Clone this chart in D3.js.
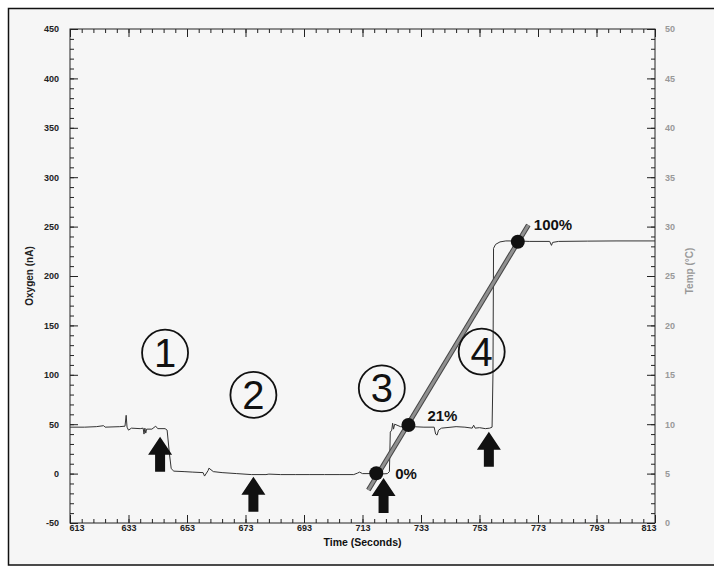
<!DOCTYPE html>
<html>
<head>
<meta charset="utf-8">
<title>oxygen calibration</title>
<style>
  body { margin: 0; background: #fff; }
  text { font-family: "Liberation Sans", Arial, sans-serif; }
</style>
</head>
<body>
<div id="chart"></div>
<script src="https://cdn.jsdelivr.net/npm/d3@7"></script>
<script>

// trace: time (s) and oxygen (nA)
var times = [613, 618, 622, 624.5, 625, 630, 631.8, 632.2, 632.5, 633, 634, 637, 638, 638.3, 638.6, 638.9, 639.2, 641, 642.3, 643, 645.5, 646.2, 647, 647.6, 648.5, 652, 655, 658.5, 659, 660.2, 660.5, 662, 665, 670, 675, 680, 681, 685, 690, 695, 700, 705, 710, 711.3, 712, 713, 716, 717, 719, 721.5, 722.2, 722.5, 723, 723.3, 723.6, 724, 726, 730, 734, 737.5, 738, 738.5, 739, 740, 745, 748, 750.5, 751, 751.5, 753, 755, 756.5, 757.3, 757.6, 757.8, 758.5, 760, 762, 766, 770, 777, 777.6, 778, 780, 790, 800, 813];
var oxygen = [47, 47, 47.5, 48.5, 47, 47.5, 48, 59, 47, 44, 46, 45.5, 46, 40, 46, 41, 45, 45, 48, 45.5, 45.5, 44, 20, 5, 2.5, 2, 1.5, 1, -2.5, 3, 5.5, 2, 1, 0, -1, -1, -0.5, -1, -1, -1, -1, -1, -1, 0.5, 1.5, 0, 0, -1, -0.5, 0, 2, 42, 44, 51, 45, 50, 47.5, 47.5, 47, 47, 40, 39, 44, 46, 47.5, 47, 46, 49, 46, 46.5, 45.5, 46, 47, 100, 228, 232, 234.5, 235.5, 235.5, 235, 235, 231, 234, 235, 235.3, 235.5, 235.5];

// calibration points and fitted line
var calTimes = [717.7, 728.7, 766.1];
var calValues = [0.3, 49.2, 234.7];
var calLabels = ['0%', '21%', '100%'];
var fitTimes = [715.0, 769.7];
var fitValues = [-16.6, 251.6];

// circled step numbers
var stepLabels = ['1', '2', '3', '4'];
var stepTimes = [645.5, 675.7, 719.6, 753.75];
var stepValues = [122.4, 79.6, 86.3, 123.4];

// arrow tips
var arrowTimes = [643.8, 675.7, 720.2, 756.2];
var arrowValues = [37.3, -3.1, -4.5, 42.4];

// axes
var xTicks = d3.range(613, 814, 20);
var xMinor = d3.range(613, 814, 4);
var yTicks = d3.range(-50, 451, 50);
var yMinor = d3.range(-50, 451, 10);
var tTicks = d3.range(0, 51, 5);
var tMinor = d3.range(0, 51, 1);

var W = 714, H = 566;
var pLeft = 70, pRight = 655, pTop = 29, pBottom = 523;

var svg = d3.select('#chart').append('svg')
  .attr('width', W).attr('height', H);

svg.append('rect')
  .attr('x', 8.5).attr('y', 8.5)
  .attr('width', W).attr('height', H - 9.5)
  .attr('fill', '#f6f6f6')
  .attr('stroke', '#111').attr('stroke-width', 1.5);

var x = d3.scaleLinear().domain([613, 813]).range([pLeft, pRight]);
var y = d3.scaleLinear().domain([-50, 450]).range([pBottom, pTop]);
var yT = d3.scaleLinear().domain([0, 50]).range([pBottom, pTop]);

var plain = d => String(d);

function styleAxis(g, color) {
  g.select('.domain').remove();
  g.selectAll('line').attr('stroke', '#222');
  g.selectAll('text')
    .style('font-size', '9px')
    .style('font-weight', 'bold')
    .attr('fill', color);
}

// minor ticks
svg.append('g').attr('transform', 'translate(' + pLeft + ',0)')
  .call(d3.axisLeft(y).tickValues(yMinor).tickSize(-4).tickSizeOuter(0).tickFormat(''))
  .call(styleAxis, '#222');
svg.append('g').attr('transform', 'translate(' + pRight + ',0)')
  .call(d3.axisRight(yT).tickValues(tMinor).tickSize(-4).tickSizeOuter(0).tickFormat(''))
  .call(styleAxis, '#999');
svg.append('g').attr('transform', 'translate(0,' + pBottom + ')')
  .call(d3.axisBottom(x).tickValues(xMinor).tickSize(-4).tickSizeOuter(0).tickFormat(''))
  .call(styleAxis, '#222');
svg.append('g').attr('transform', 'translate(0,' + pTop + ')')
  .call(d3.axisTop(x).tickValues(xMinor).tickSize(-4).tickSizeOuter(0).tickFormat(''))
  .call(styleAxis, '#222');

// major ticks + labels
svg.append('g').attr('transform', 'translate(' + pLeft + ',0)')
  .call(d3.axisLeft(y).tickValues(yTicks).tickSize(-8).tickSizeOuter(0).tickPadding(11).tickFormat(plain))
  .call(styleAxis, '#222');
svg.append('g').attr('transform', 'translate(' + pRight + ',0)')
  .call(d3.axisRight(yT).tickValues(tTicks).tickSize(-8).tickSizeOuter(0).tickPadding(10).tickFormat(plain))
  .call(styleAxis, '#999');
var xg = svg.append('g').attr('transform', 'translate(0,' + pBottom + ')')
  .call(d3.axisBottom(x).tickValues(xTicks).tickSize(-8).tickSizeOuter(0).tickPadding(2).tickFormat(plain))
  .call(styleAxis, '#222');
xg.selectAll('text').filter(d => d == 613).attr('text-anchor', 'start').attr('x', -1);
xg.selectAll('text').filter(d => d == 813).attr('text-anchor', 'end').attr('x', 1);
svg.append('g').attr('transform', 'translate(0,' + pTop + ')')
  .call(d3.axisTop(x).tickValues(xTicks).tickSize(-8).tickSizeOuter(0).tickFormat(''))
  .call(styleAxis, '#222');

// plot frame
svg.append('rect')
  .attr('x', pLeft).attr('y', pTop)
  .attr('width', pRight - pLeft).attr('height', pBottom - pTop)
  .attr('fill', 'none').attr('stroke', '#222').attr('stroke-width', 1);

// axis titles
svg.append('text')
  .attr('transform', 'translate(33,' + ((pTop + pBottom) / 2) + ') rotate(-90)')
  .attr('text-anchor', 'middle')
  .style('font-size', '10px').style('font-weight', 'bold')
  .attr('fill', '#222')
  .text('Oxygen (nA)');
svg.append('text')
  .attr('transform', 'translate(693,' + ((pTop + pBottom) / 2 - 5) + ') rotate(-90)')
  .attr('text-anchor', 'middle')
  .style('font-size', '10px').style('font-weight', 'bold')
  .attr('fill', '#999')
  .text('Temp (°C)');
svg.append('text')
  .attr('x', (pLeft + pRight) / 2).attr('y', 546)
  .attr('text-anchor', 'middle')
  .style('font-size', '10.5px').style('font-weight', 'bold')
  .attr('fill', '#111')
  .text('Time (Seconds)');

// trace
var line = d3.line()
  .x((d, i) => x(times[i]))
  .y(d => y(d));
svg.append('path')
  .attr('d', line(oxygen))
  .attr('fill', 'none')
  .attr('stroke', '#333')
  .attr('stroke-width', 1);

// fitted line (dark edge, grey core)
var fit = d3.line().x((d, i) => x(fitTimes[i])).y(d => y(d));
svg.append('path').attr('d', fit(fitValues))
  .attr('stroke', '#444').attr('stroke-width', 5).attr('fill', 'none');
svg.append('path').attr('d', fit(fitValues))
  .attr('stroke', '#909090').attr('stroke-width', 3).attr('fill', 'none');

// calibration dots + labels
var labelDx = [19, 19, 16], labelDy = [6, -4, -12];
calValues.forEach((v, i) => {
  svg.append('circle')
    .attr('cx', x(calTimes[i])).attr('cy', y(v)).attr('r', 7)
    .attr('fill', '#111');
  svg.append('text')
    .attr('x', x(calTimes[i]) + labelDx[i]).attr('y', y(v) + labelDy[i])
    .style('font-size', '15px').style('font-weight', 'bold')
    .attr('fill', '#111')
    .text(calLabels[i]);
});

// circled numbers
stepLabels.forEach((s, i) => {
  var cx = x(stepTimes[i]), cy = y(stepValues[i]);
  svg.append('circle')
    .attr('cx', cx).attr('cy', cy).attr('r', 23)
    .attr('fill', 'none').attr('stroke', '#111').attr('stroke-width', 1.8);
  svg.append('text')
    .attr('x', cx).attr('y', cy + 14)
    .attr('text-anchor', 'middle')
    .style('font-size', '40px')
    .attr('fill', '#111')
    .text(s);
});

// arrows
arrowValues.forEach((v, i) => {
  var ax = x(arrowTimes[i]), ay = y(v);
  var p = d3.path();
  p.moveTo(ax, ay);
  p.lineTo(ax + 12, ay + 18);
  p.lineTo(ax + 5, ay + 18);
  p.lineTo(ax + 5, ay + 35);
  p.lineTo(ax - 5, ay + 35);
  p.lineTo(ax - 5, ay + 18);
  p.lineTo(ax - 12, ay + 18);
  p.closePath();
  svg.append('path').attr('d', p.toString()).attr('fill', '#111');
});

</script>
</body>
</html>
